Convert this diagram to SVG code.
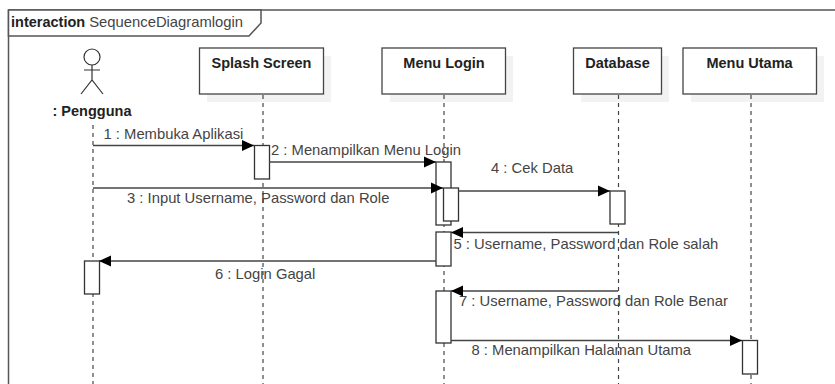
<svg xmlns="http://www.w3.org/2000/svg" width="835" height="384" viewBox="0 0 835 384">
<style>
text{font-family:"Liberation Sans",Arial,sans-serif;font-size:14.800px;fill:#444}
.b{font-weight:bold;fill:#222;font-size:14.500px}
.n{fill:#fff;stroke:#444;stroke-width:1.3}
.s{fill:#f2f2f2}
.l{stroke:#444;stroke-width:1.2;stroke-dasharray:4 4;fill:none}
.a{fill:#fff;stroke:#333;stroke-width:1.3}
.m{stroke:#444;stroke-width:1.4;fill:none;marker-end:url(#h)}
.f{fill:#fff;stroke:#555;stroke-width:1.5}
.o{fill:none;stroke:#333;stroke-width:1.2}
</style>
<defs><marker id="h" markerUnits="userSpaceOnUse" markerWidth="13" markerHeight="13" refX="12" refY="6" orient="auto"><path d="M0 0.500L12 6L0 11.500Z" fill="#000"/></marker></defs>
<rect width="835" height="384" fill="#fff"/>
<path id="frame" d="M8.500 384V10H835" fill="none" stroke="#555" stroke-width="1.500"/>
<g id="frame-label"><path class="f" d="M8.500 10H261V23L249 36H8.500Z"/><text x="11" y="27"><tspan class="b">interaction</tspan> SequenceDiagramlogin</text></g>
<g id="pengguna"><circle class="o" cx="92" cy="57" r="8"/><path class="o" d="M92 65V80M84 70H100M81 94L92 80L103 94"/><text class="b" x="92" y="116" text-anchor="middle">: Pengguna</text></g>
<g id="splash"><rect class="s" x="207" y="56" width="124" height="46"/><rect class="n" x="199.500" y="48" width="124" height="46"/><text class="b" x="261.500" y="68" text-anchor="middle">Splash Screen</text></g>
<g id="login"><rect class="s" x="390" y="56" width="123" height="46"/><rect class="n" x="382" y="48" width="123.500" height="46"/><text class="b" x="444" y="68" text-anchor="middle">Menu Login</text></g>
<g id="database"><rect class="s" x="581" y="56" width="88" height="46"/><rect class="n" x="573.500" y="48" width="88" height="46"/><text class="b" x="617.500" y="68" text-anchor="middle">Database</text></g>
<g id="utama"><rect class="s" x="691" y="56" width="133" height="46"/><rect class="n" x="683" y="48" width="133.500" height="46"/><text class="b" x="749.500" y="68" text-anchor="middle">Menu Utama</text></g>
<g id="lifelines">
<path class="l" d="M93 125V384"/><path class="l" d="M263 95V384"/><path class="l" d="M444 95V384"/><path class="l" d="M618.500 95V384"/><path class="l" d="M751 95V384"/>
</g>
<g id="activations">
<rect class="a" x="254.500" y="145.500" width="15" height="33.500"/>
<rect class="a" x="436" y="162" width="15" height="63"/>
<rect class="a" x="443.500" y="188" width="15" height="33"/>
<rect class="a" x="610" y="191" width="15" height="33"/>
<rect class="a" x="436" y="232" width="15" height="34"/>
<rect class="a" x="84.500" y="261" width="15" height="33"/>
<rect class="a" x="436" y="291" width="15" height="52"/>
<rect class="a" x="742.500" y="340.500" width="15" height="33.500"/>
</g>
<g id="connectors">
<path class="m" d="M93 145.500H254"/>
<path class="m" d="M269 162H436"/>
<path class="m" d="M93 188H443"/>
<path class="m" d="M458 191H610"/>
<path class="m" d="M618 232.500H451"/>
<path class="m" d="M436 261H99"/>
<path class="m" d="M618 291H451"/>
<path class="m" d="M451 340.500H742"/>
</g>
<g id="labels">
<text x="103.500" y="139">1 : Membuka Aplikasi</text>
<text x="271" y="155">2 : Menampilkan Menu Login</text>
<text x="127" y="203">3 : Input Username, Password dan Role</text>
<text x="491" y="173">4 : Cek Data</text>
<text x="453.500" y="249">5 : Username, Password dan Role salah</text>
<text x="215" y="279">6 : Login Gagal</text>
<text x="459" y="306">7 : Username, Password dan Role Benar</text>
<text x="471.500" y="355">8 : Menampilkan Halaman Utama</text>
</g>
</svg>
